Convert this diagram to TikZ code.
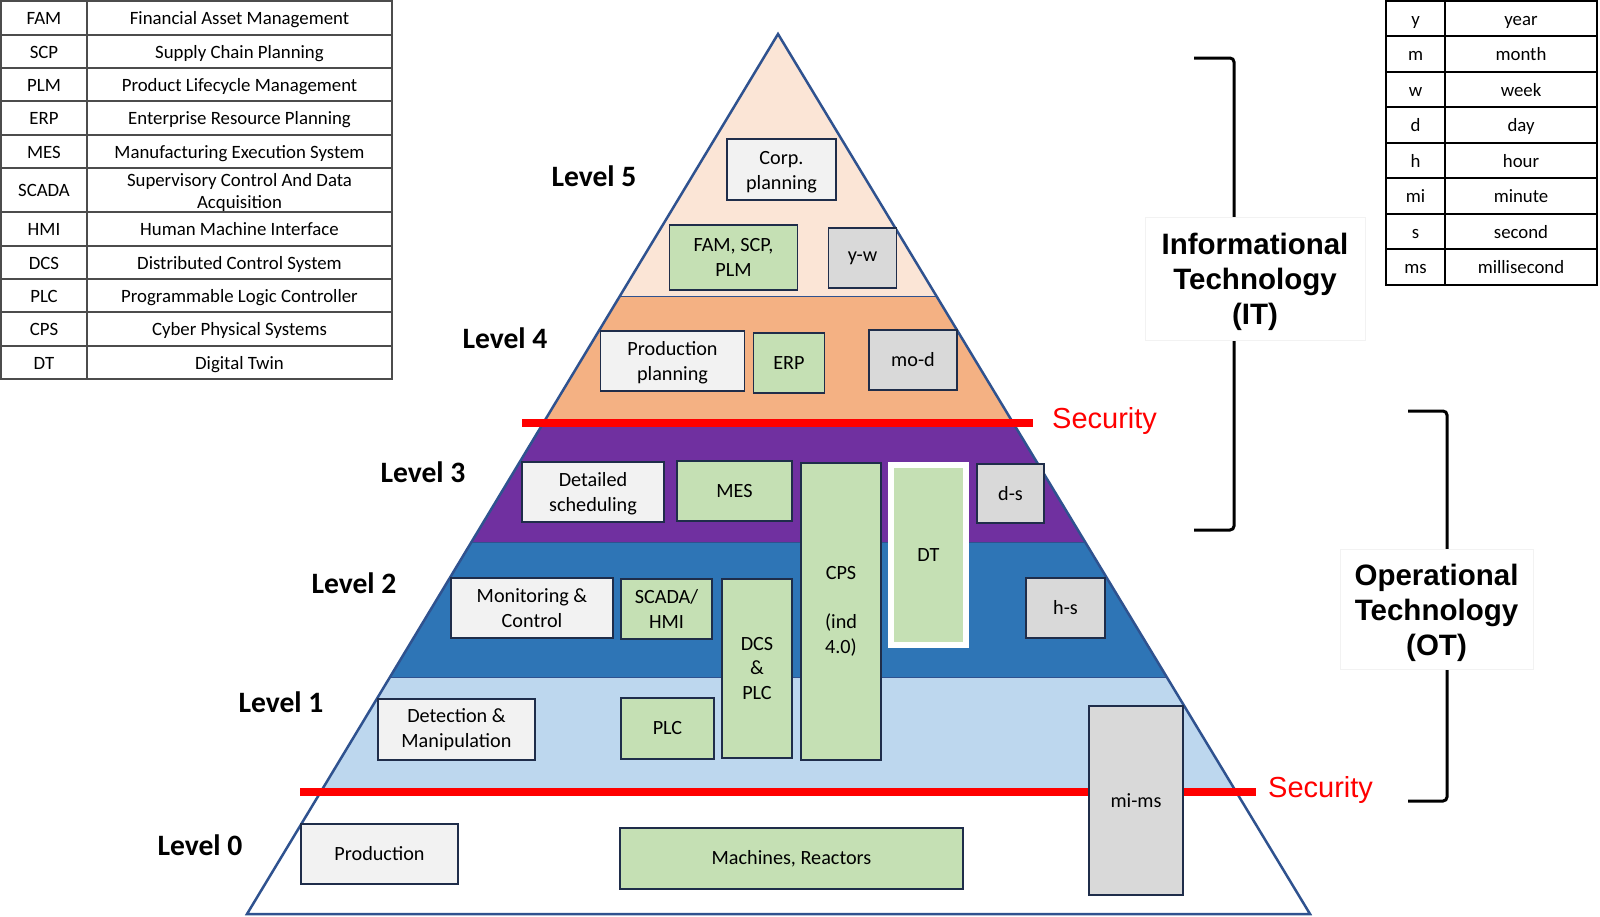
\documentclass[tikz,border=0pt]{standalone}
\usepackage{fontspec}
\setmainfont{Carlito}
\newfontfamily\arialfont{Liberation Sans}
\definecolor{cLfive}{HTML}{FBE5D6}
\definecolor{cLfour}{HTML}{F4B183}
\definecolor{cLthree}{HTML}{7030A0}
\definecolor{cLtwo}{HTML}{2E75B6}
\definecolor{cLone}{HTML}{BDD7EE}
\definecolor{cPyr}{HTML}{2F528F}
\definecolor{cBoxLine}{HTML}{1F2D4A}
\definecolor{cWhiteBox}{HTML}{F2F2F2}
\definecolor{cGreenBox}{HTML}{C5E0B4}
\definecolor{cTimeBox}{HTML}{D9D9D9}
\definecolor{cSec}{HTML}{FF0000}
\newcommand\myboxfont{\fontsize{20.2}{24.8}\selectfont}
\newcommand\mytabfont{\fontsize{18.8}{22}\selectfont}
\newcommand\mylevfont{\fontsize{29.6}{35}\selectfont\bfseries}
\newcommand\mybigfont{\arialfont\bfseries\fontsize{29.5}{35}\selectfont}
\newcommand\mysecfont{\arialfont\fontsize{29}{34}\selectfont}
\begin{document}
\begin{tikzpicture}[x=1pt,y=-1pt,
  pbox/.style={draw=cBoxLine, line width=1.8pt, inner sep=0pt, align=center, font=\myboxfont},
  whitebox/.style={pbox, fill=cWhiteBox},
  greenbox/.style={pbox, fill=cGreenBox},
  timebox/.style={pbox, fill=cTimeBox},
  sz/.style n args={2}{minimum width=#1pt, minimum height=#2pt},
  levlabel/.style={font=\mylevfont, inner sep=0pt, anchor=base},
  seclabel/.style={font=\mysecfont, text=cSec, inner sep=0pt, anchor=base west},
  secline/.style={draw=cSec, line width=8pt},
  bandline/.style={draw=cPyr, line width=1pt},
  tabtext/.style={font=\mytabfont, inner sep=0pt, align=center, anchor=base},
  tabline/.style={draw=black!70, line width=1.2pt},
  tabline2/.style={draw=black, line width=2pt},
  brk/.style={draw=black, line width=3pt, rounded corners=4pt},
  bigbox/.style={draw=black!5, fill=white, line width=1pt, align=center, font=\mybigfont, inner sep=0pt}
]
\useasboundingbox (0,0) rectangle (1600,916);
\fill[white] (0,0) rectangle (1600,916);

% pyramid bands
\begin{scope}
  \clip (778,34) -- (247,914) -- (1310,914) -- cycle;
  \fill[cLfive] (0,0) rectangle (1600,296);
  \fill[cLfour] (0,296) rectangle (1600,423);
  \fill[cLthree] (0,423) rectangle (1600,542);
  \fill[cLtwo] (0,542) rectangle (1600,677);
  \fill[cLone] (0,677) rectangle (1600,792);
  \fill[white] (0,792) rectangle (1600,916);
  \draw[bandline] (0,296) -- (1600,296);
  \draw[bandline] (0,542) -- (1600,542);
  \draw[bandline] (0,677) -- (1600,677);
\end{scope}
\draw[draw=cPyr, line width=2.5pt, line join=miter] (778,34) -- (247,914) -- (1310,914) -- cycle;

% security lines
\draw[secline] (522,423) -- (1033,423);
\draw[secline] (300,792) -- (1256,792);
\node[seclabel] (sec1) at (1052,428) {Security};
\node[seclabel] (sec2) at (1268,797) {Security};

% level labels
\node[levlabel] (lv5) at (594,186.5) {Level 5};
\node[levlabel] (lv4) at (505,348.5) {Level 4};
\node[levlabel] (lv3) at (423,482.5) {Level 3};
\node[levlabel] (lv2) at (354,593) {Level 2};
\node[levlabel] (lv1) at (281,712.5) {Level 1};
\node[levlabel] (lv0) at (200,855.5) {Level 0};

% boxes level 5
\node[whitebox, sz={109}{61}] (corp) at (781.5,169.5) {\rule{0pt}{18pt}Corp.\\planning};
\node[greenbox, sz={128}{65}] (fam) at (733.5,257.5) {FAM, SCP,\\PLM};
\node[timebox, sz={68}{60}] (yw) at (862.5,258) {y-w};
% level 4
\node[whitebox, sz={144}{60}] (prodplan) at (672.5,361) {\rule{0pt}{18pt}Production\\planning};
\node[greenbox, sz={71}{60}] (erp) at (789,363) {ERP};
\node[timebox, sz={88}{60}] (mod) at (913,360) {mo-d};
% level 3
\node[whitebox, sz={142}{60}] (detsched) at (593,492) {\rule{0pt}{18pt}Detailed\\scheduling};
\node[greenbox, sz={115}{60}] (mes) at (734.5,491) {MES};
\node[greenbox, sz={80}{297}] (cps) at (841,611.5) {CPS\\[24pt](ind\\4.0)};
\node[greenbox, draw=white, line width=6pt, sz={75}{180}] (dt) at (928.5,555) {DT};
\node[timebox, sz={67}{59}] (ds) at (1010.5,493.5) {d-s};
% level 2
\node[whitebox, sz={162}{60}] (mon) at (532,608) {Monitoring \&\\Control};
\node[greenbox, sz={91}{60}] (scada) at (666.5,609) {SCADA/\\HMI};
\node[greenbox, sz={70}{179}] (dcs) at (757,668.5) {DCS\\\&\\PLC};
\node[timebox, sz={79}{60}] (hs) at (1065.5,608) {h-s};
% level 1
\node[whitebox, sz={157}{61}] (detect) at (456.5,729.5) {Detection \&\\Manipulation};
\node[greenbox, sz={93}{61}] (plc) at (667.5,728.5) {PLC};
\node[timebox, sz={94}{189}] (mims) at (1136,800.5) {mi-ms};
% level 0
\node[whitebox, sz={157}{60}] (production) at (379.5,854) {Production};
\node[greenbox, sz={343}{61}] (machines) at (791.5,858.5) {Machines, Reactors};

% left table
\draw[tabline] (1,1) rectangle (392,379);
\draw[tabline] (87,1) -- (87,379);
\foreach \yy in {35,68,101,135,168,212,246,279,312,346} {
  \draw[tabline] (1,\yy) -- (392,\yy);
}
\foreach \ab/\full/\yy [count=\i] in {
  FAM/Financial Asset Management/18,
  SCP/Supply Chain Planning/51.5,
  PLM/Product Lifecycle Management/84.5,
  ERP/Enterprise Resource Planning/118,
  MES/Manufacturing Execution System/151.5,
  HMI/Human Machine Interface/229,
  DCS/Distributed Control System/262.5,
  PLC/Programmable Logic Controller/295.5,
  CPS/Cyber Physical Systems/329,
  DT/Digital Twin/362.5} {
  \node[tabtext] (la\i) at (44,\yy+6.5) {\ab};
  \node[tabtext] (lb\i) at (239.5,\yy+6.5) {\full};
}
\node[tabtext] (lascada) at (44,196.5) {SCADA};
\node[tabtext, anchor=center] (lbscada) at (239.5,192) {Supervisory Control And Data\\Acquisition};

% right table
\draw[tabline2] (1386,1) rectangle (1597,284.5);
\draw[tabline2] (1445,1) -- (1445,284.5);
\foreach \k in {1,...,7} {
  \draw[tabline2] (1386,{1+35.44*\k}) -- (1597,{1+35.44*\k});
}
\foreach \ab/\full [count=\i from 0] in {y/year,m/month,w/week,d/day,h/hour,mi/minute,s/second,ms/millisecond} {
  \node[tabtext] (ra\i) at (1415.5,{25.4+35.44*\i}) {\ab};
  \node[tabtext] (rb\i) at (1521,{25.4+35.44*\i}) {\full};
}

% brackets
\draw[brk] (1194,58) -- (1234,58) -- (1234,530) -- (1194,530);
\draw[brk] (1408,411) -- (1447,411) -- (1447,801) -- (1408,801);
\node[bigbox, sz={220}{123}] (itbox) at (1255,278.5) {\rule{0pt}{27.5pt}Informational\\Technology\\(IT)};
\node[bigbox, sz={193}{120}] (otbox) at (1436.5,609) {\rule{0pt}{29.5pt}Operational\\Technology\\(OT)};
\end{tikzpicture}
\end{document}
